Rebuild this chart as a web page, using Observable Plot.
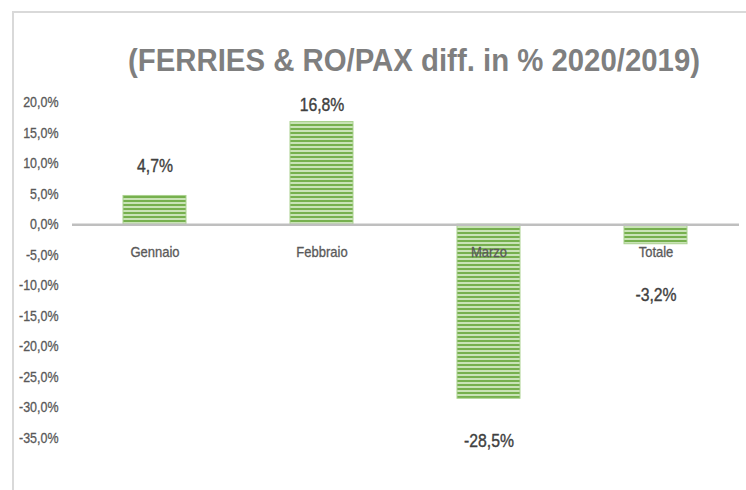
<!DOCTYPE html>
<html>
<head>
<meta charset="utf-8">
<script src="https://cdn.jsdelivr.net/npm/d3@7"></script>
<script src="https://cdn.jsdelivr.net/npm/@observablehq/plot@0.6"></script>
<style>
  html, body { margin: 0; padding: 0; background: #fff; }
  #wrap { position: relative; width: 746px; height: 490px; overflow: hidden; }
  #frame { position: absolute; left: 12px; top: 11px; width: 760px; height: 500px;
           border-top: 2px solid #d9d9d9; border-left: 2px solid #d9d9d9; }
  #title { position: absolute; left: 414px; top: 41px; white-space: nowrap;
           font-family: "Liberation Sans", Arial, sans-serif;
           font-weight: bold; font-size: 32px; line-height: 38px; color: #7f7f7f;
           transform-origin: 0 0; }
  #chart { position: absolute; left: 0; top: 80px; }
</style>
</head>
<body>
<div id="wrap">
  <div id="frame"></div>
  <div id="title">(FERRIES &amp; RO/PAX diff. in % 2020/2019)</div>
  <div id="chart"></div>
</div>
<script>
const categories = ["Gennaio", "Febbraio", "Marzo", "Totale"];
const values = [4.7, 16.8, -28.5, -3.2];
const valueLabels = ["4,7%", "16,8%", "-28,5%", "-3,2%"];
const yTicks = [20, 15, 10, 5, 0, -5, -10, -15, -20, -25, -30, -35];

const data = categories.map((c, i) => ({cat: c, value: values[i], label: valueLabels[i]}));
const labelDy = [-30, -17, 42, 51];

const font = '"Liberation Sans", Arial, sans-serif';

const plot = Plot.plot({
  width: 746,
  height: 400,
  marginLeft: 72,
  marginRight: 7,
  marginTop: 22,
  marginBottom: 42,
  style: {fontFamily: font, background: "transparent", overflow: "visible"},
  x: {domain: categories, paddingInner: 0.62, paddingOuter: 0.307, axis: null},
  y: {domain: [-35, 20], label: null},
  marks: [
    Plot.axisY({ticks: yTicks, tickSize: 0, tickPadding: 14, fontSize: 14, fill: "#595959",
      className: "cond89",
      tickFormat: d => d.toFixed(1).replace(".", ",") + "%", label: null}),
    Plot.barY(data, {x: "cat", y: "value", fill: "url(#stripes)", stroke: "#a9d18e", strokeWidth: 1}),
    Plot.ruleY([0], {stroke: "#bfbfbf", strokeWidth: 2.5}),
    Plot.text(data, {x: "cat", y: 0, text: "cat", dy: 28, fontSize: 14, fill: "#595959",
      stroke: "#595959", strokeWidth: 0.3, className: "cond93"}),
    ...data.map((d, i) => Plot.text([d], {x: "cat", y: "value", text: "label", dy: labelDy[i],
      fontSize: 19, fill: "#404040", stroke: "#404040", strokeWidth: 0.4, className: "cond83"}))
  ]
});

const defs = document.createElementNS("http://www.w3.org/2000/svg", "defs");
defs.innerHTML = `<pattern id="stripes" patternUnits="userSpaceOnUse" width="8" height="4">
  <rect width="8" height="4" fill="#c9e3b7"/>
  <rect width="8" height="2" y="0" fill="#76b04e"/>
</pattern>`;
plot.insertBefore(defs, plot.firstChild);
document.getElementById("chart").appendChild(plot);

// thicken tick labels slightly (Calibri-like weight)
plot.querySelectorAll(".cond89 text").forEach(t => {
  t.setAttribute("stroke", "#595959");
  t.setAttribute("stroke-width", "0.3");
});

// horizontally condense text (Calibri-like) around each label's anchor
const condense = (cls, s) => {
  plot.querySelectorAll(`.${cls} text`).forEach(t => {
    const tr = t.getAttribute("transform") || "";
    t.setAttribute("transform", `${tr} scale(${s},1)`);
  });
};
condense("cond89", 0.89);
condense("cond93", 0.93);
condense("cond83", 0.83);

// fit the title to the reference width (condensed look), centred
const title = document.getElementById("title");
const w = title.getBoundingClientRect().width;
const target = 572;
const s = target / w;
title.style.transform = `translate(${-target / 2}px, 0) scale(${s}, 1)`;
</script>
</body>
</html>
